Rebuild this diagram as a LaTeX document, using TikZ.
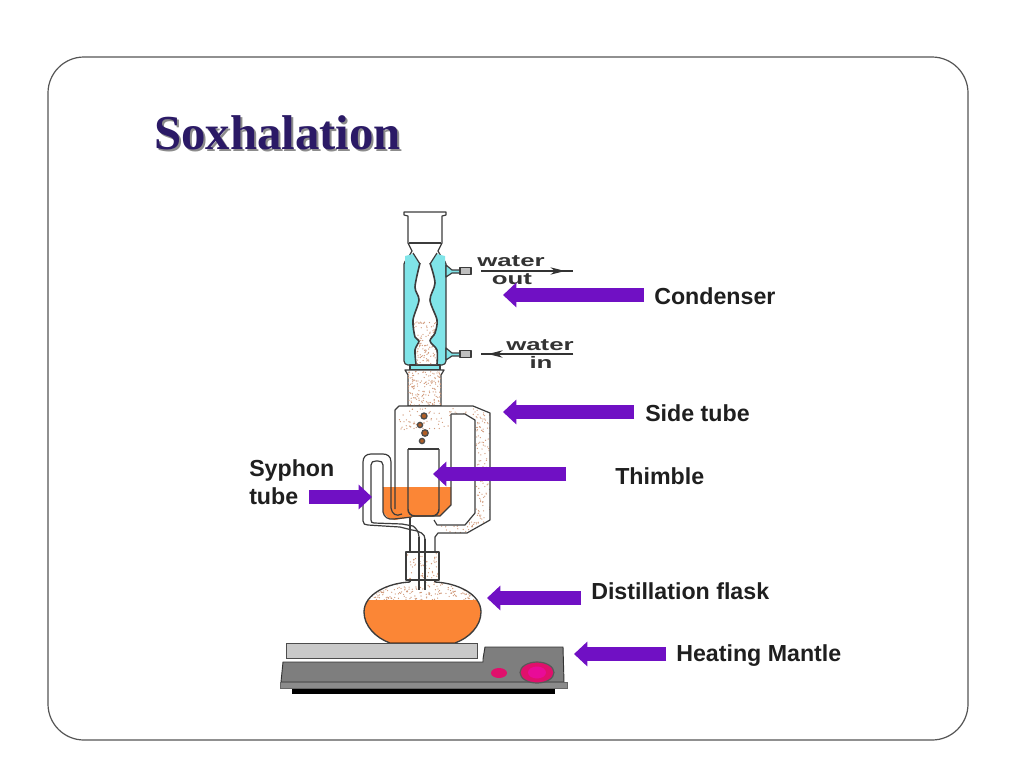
\documentclass[tikz,border=0pt]{standalone}
\usepackage{fontspec}
\setmainfont{Liberation Sans}
\newfontfamily\titlefont{Liberation Serif}
\usetikzlibrary{arrows.meta}
\definecolor{pointer}{HTML}{7010C4}
\definecolor{orangefill}{HTML}{FB8636}
\definecolor{jacket}{HTML}{80E4E8}
\definecolor{speck}{HTML}{D09878}
\definecolor{glassline}{HTML}{3C3C3C}
\definecolor{titleink}{HTML}{2B1A66}
\definecolor{framecol}{HTML}{555555}
\definecolor{basegray}{HTML}{7E7E7E}
\definecolor{plategray}{HTML}{C9C9C9}
\definecolor{knobpink}{HTML}{E0106C}
\newcommand{\speckle}[5]{\foreach \i in {1,...,#1}{\pgfmathsetmacro{\sx}{#2+rnd*#4}\pgfmathsetmacro{\sy}{#3+rnd*#5}\fill[speck] (\sx,\sy) circle[radius=0.65];}}
\tikzset{
 x=0.75pt,y=-0.75pt,
 pointerline/.style={draw=pointer,line width=10.5pt,-{Triangle[length=10pt,width=18pt]}},
 callout/.style={font=\fontsize{17.4}{20}\selectfont\bfseries,text=black!88,anchor=west,inner sep=0pt},
 glass/.style={draw=glassline,line width=0.9pt,line join=round},
 waterlabel/.style={font=\fontsize{12.5}{14}\selectfont\bfseries,text=black!80,inner sep=0pt,xscale=1.55},
 waterline/.style={draw=black!80,line width=0.9pt},
 waterhead/.style={draw=black!80,line width=0.9pt,-{Stealth[length=11pt,width=5.5pt]}},
 titlestyle/.style={font=\titlefont\fontsize{36.6}{42}\selectfont\bfseries,inner sep=0pt,anchor=west},
}
\begin{document}
\begin{tikzpicture}
\useasboundingbox (0,0) rectangle (1024,768);
\fill[white] (0,0) rectangle (1024,768);
\pgfmathsetseed{4242}
% frame
\draw[framecol,line width=0.9pt,rounded corners=27pt,fill=white] (48,57) rectangle (968,740);
% title
\node[titlestyle,text=black!45] at (156,134.5) {Soxhalation};
\node[titlestyle,text=titleink] (title) at (154,133) {Soxhalation};
% jacket
\draw[glass,fill=jacket,rounded corners=3pt] (404,260) rectangle (446,365);
% stem below jacket
\draw[glass,fill=jacket] (410,365) rectangle (440,370);
% top adapter
\draw[glass,fill=white] (404,212) -- (446,212) -- (446,215) -- (442,216) -- (442,243) -- (438,251) -- (442,258) -- (442,261) -- (408,261) -- (408,258) -- (412,251) -- (408,243) -- (408,216) -- (404,215) -- cycle;
\draw[glass] (409,243) -- (441,243);
\fill[jacket] (405,256) -- (413,254) -- (420,264) -- (430,264) -- (437,254) -- (445,256) -- (445,263) -- (405,263) -- cycle;
\fill[white] (413,253) -- (420,264) -- (430,264) -- (437,253) -- cycle;
\draw[glass] (413,253) -- (420,264);
\draw[glass] (437,253) -- (430,264);
% inner tube
\fill[white] plot[smooth] coordinates {(420,263) (415,287) (419,300) (413,320) (415,337) (419,341) (415,350) (416,364)} -- plot[smooth] coordinates {(437,364) (437,350) (430,341) (435,333) (437,320) (430,300) (435,283) (430,263)} -- cycle;
\begin{scope}
\clip plot[smooth] coordinates {(420,263) (415,287) (419,300) (413,320) (415,337) (419,341) (415,350) (416,364)} -- plot[smooth] coordinates {(437,364) (437,350) (430,341) (435,333) (437,320) (430,300) (435,283) (430,263)} -- cycle;
\speckle{120}{413}{322}{24}{42}
\end{scope}
\draw[glass,line width=1.2pt] plot[smooth] coordinates {(420,263) (415,287) (419,300) (413,320) (415,337) (419,341) (415,350) (416,364)};
\draw[glass,line width=1.2pt] plot[smooth] coordinates {(430,263) (435,283) (430,300) (437,320) (435,333) (430,341) (437,350) (437,364)};
% ports
\draw[glass,fill=jacket] (446,265) -- (452,270) -- (460,270) -- (460,273) -- (452,273) -- (446,277) -- cycle;
\draw[glass,fill=jacket] (446,348) -- (452,353) -- (460,353) -- (460,356) -- (452,356) -- (446,360) -- cycle;
\draw[glass,fill=black!25] (460,267.5) rectangle (471,274.5);
\draw[glass,fill=black!25] (460,350.5) rectangle (471,357.5);
% water labels
\coordinate (outA) at (481,271); \coordinate (outB) at (573,271); \coordinate (outH) at (565,271);
\coordinate (inA) at (573,354); \coordinate (inB) at (481,354); \coordinate (inH) at (488,354);
\node[waterlabel] (wout1) at (511,261) {water};
\node[waterlabel] (wout2) at (512,279) {out};
\node[waterlabel] (win1) at (540,345) {water};
\node[waterlabel] (win2) at (541,362) {in};
\draw[waterline] (outA) -- (outB);
\draw[waterhead] (outA) -- (outH);
\draw[waterline] (inA) -- (inB);
\draw[waterhead] (inA) -- (inH);
% lower joint
\draw[glass,fill=white] (405,370) -- (444,370) -- (441,375) -- (441,406) -- (408,406) -- (408,375) -- cycle;
\begin{scope}
\clip (408,371) rectangle (441,406);
\speckle{170}{406}{370}{37}{36}
\end{scope}
% extractor body with side tube (fill only)
\fill[white] (395,410) -- (399,406) -- (473,406) -- (490,413) -- (490,520) -- (467,533) -- (438,533) -- (433,537) -- (410,537) -- (395,516) -- cycle;
\begin{scope}
\clip (395,406) -- (473,406) -- (490,413) -- (490,520) -- (467,533) -- (395,533) -- cycle;
\speckle{90}{398}{408}{90}{22}
\speckle{110}{476}{414}{14}{110}
\speckle{35}{440}{522}{45}{11}
\end{scope}
% white inner side passage
\fill[white,rounded corners=2pt] (451,414) -- (465,414) -- (475,420) -- (475,513) -- (465,525) -- (437,525) -- (434,520) -- (451,505) -- cycle;
% orange liquid
\fill[orangefill] (383,487) -- (451,487) -- (451,505) -- (440,516) -- (412,517) -- (395,520) -- (388,518) -- (383,512) -- cycle;
% thimble
\fill[white] (408,449) rectangle (439,487);
\draw[glass,line width=1.1pt,rounded corners=5pt] (408,449) -- (408,516) -- (439,516) -- (439,449);
\draw[glass,line width=1.1pt] (408,449) -- (439,449);
% body outlines
\draw[glass] (395,509) -- (395,410) -- (399,406) -- (473,406) -- (490,413) -- (490,520) -- (467,533) -- (438,533) -- (435,537) -- (435,552);
\draw[glass] (451,414) -- (465,414) -- (475,420) -- (475,513) -- (465,525) -- (437,525) -- (434,520);
\draw[glass] (451,414) -- (451,505) -- (440,516) -- (412,516);
% droplets
\foreach \dx/\dy/\dr in {424/416/3,420/425/2.6,425/433/3.2,422/441/2.6}{
 \filldraw[draw=black!70,fill=orangefill!70!black,line width=1pt] (\dx,\dy) circle[radius=\dr];
}
% syphon tube
\draw[glass] (391,487) -- (391,508) .. controls (392,514) and (396,517) .. (402,514);
\draw[glass] (383,487) -- (383,512) .. controls (384,517) and (388,520) .. (394,519) -- (412,517);
\draw[glass] (391,487) -- (391,462) .. controls (391,456) and (387,454) .. (383,454) -- (371,454) .. controls (366,454) and (363,457) .. (363,462) -- (363,521) .. controls (363,524) and (365,525) .. (368,525) -- (400,527) -- (412,530) .. controls (420,531) and (425,534) .. (425,539);
\draw[glass] (383,487) -- (383,465) .. controls (383,462) and (381,461) .. (378,461) -- (376,461) .. controls (373,461) and (371,462) .. (371,465) -- (371,520) .. controls (371,522) and (372,523) .. (374,523) -- (402,524) -- (413,526) .. controls (416,528) and (419,532) .. (419,537);
% neck
\draw[glass] (410,517) -- (410,552);
\begin{scope}
\clip (406,552) rectangle (439,580);
\speckle{60}{406}{552}{33}{28}
\end{scope}
\draw[glass] (406,552) rectangle (439,580);
\draw[glass] (410,580) -- (410,583);
\draw[glass] (435,580) -- (435,583);
% flask
\begin{scope}
\clip (410,582) .. controls (388,583) and (364,594) .. (364,612) .. controls (364,626) and (376,638) .. (390,643) -- (455,643) .. controls (469,638) and (481,626) .. (481,612) .. controls (481,594) and (457,583) .. (435,582) -- cycle;
\fill[white] (360,580) rectangle (485,600);
\speckle{220}{364}{582}{117}{18}
\fill[orangefill] (360,600) rectangle (485,645);
\end{scope}
\draw[glass,line width=1pt] (410,582) .. controls (388,583) and (364,594) .. (364,612) .. controls (364,626) and (376,638) .. (390,643);
\draw[glass,line width=1pt] (455,643) .. controls (469,638) and (481,626) .. (481,612) .. controls (481,594) and (457,583) .. (435,582);
\draw[orangefill!60!black,line width=1.2pt] (390,642.5) -- (455,642.5);
% inner tubes in neck reaching into flask
\draw[glass,line width=1.2pt] (419,537) -- (419,590);
\draw[glass,line width=1.2pt] (425,539) -- (425,590);
% hot plate
\draw[black!70,line width=0.7pt,fill=plategray] (286,643) rectangle (477,658);
\draw[black!80,line width=0.7pt,fill=basegray] (283,662) -- (483,662) -- (483,659) -- (485,647) -- (563,647) -- (564,682) -- (281,682) -- cycle;
\fill[black] (292,687) rectangle (555,694);
\draw[black!60,line width=0.5pt,fill=basegray!90] (280,682) rectangle (567,688);
\fill[knobpink] (499,673) ellipse[x radius=8,y radius=5];
\draw[black!65,fill=knobpink,line width=0.9pt] (537,672.5) ellipse[x radius=17,y radius=10.5];
\fill[knobpink!70!magenta] (537,672.5) ellipse[x radius=9,y radius=6];
% callouts
\node[callout] (condenser) at (654,296) {Condenser};
\node[callout] (sidetube) at (645,413) {Side tube};
\node[callout] (thimble) at (615,476) {Thimble};
\node[callout] (syphon1) at (249,470) {Syphon};
\node[callout] (syphon2) at (249,496) {tube};
\node[callout] (flask) at (591,591) {Distillation flask};
\node[callout] (mantle) at (676,656) {Heating Mantle};
\coordinate (cA) at (644,295); \coordinate (cB) at (503,295);
\coordinate (sA) at (634,412); \coordinate (sB) at (503,412);
\coordinate (tA) at (566,474); \coordinate (tB) at (433,474);
\coordinate (yA) at (309,497); \coordinate (yB) at (372,497);
\coordinate (fA) at (581,598); \coordinate (fB) at (487,598);
\coordinate (mA) at (666,654); \coordinate (mB) at (574,654);
\foreach \a/\b in {cA/cB,sA/sB,tA/tB,yA/yB,fA/fB,mA/mB}{\draw[pointerline] (\a) -- (\b);}
\end{tikzpicture}
\end{document}
